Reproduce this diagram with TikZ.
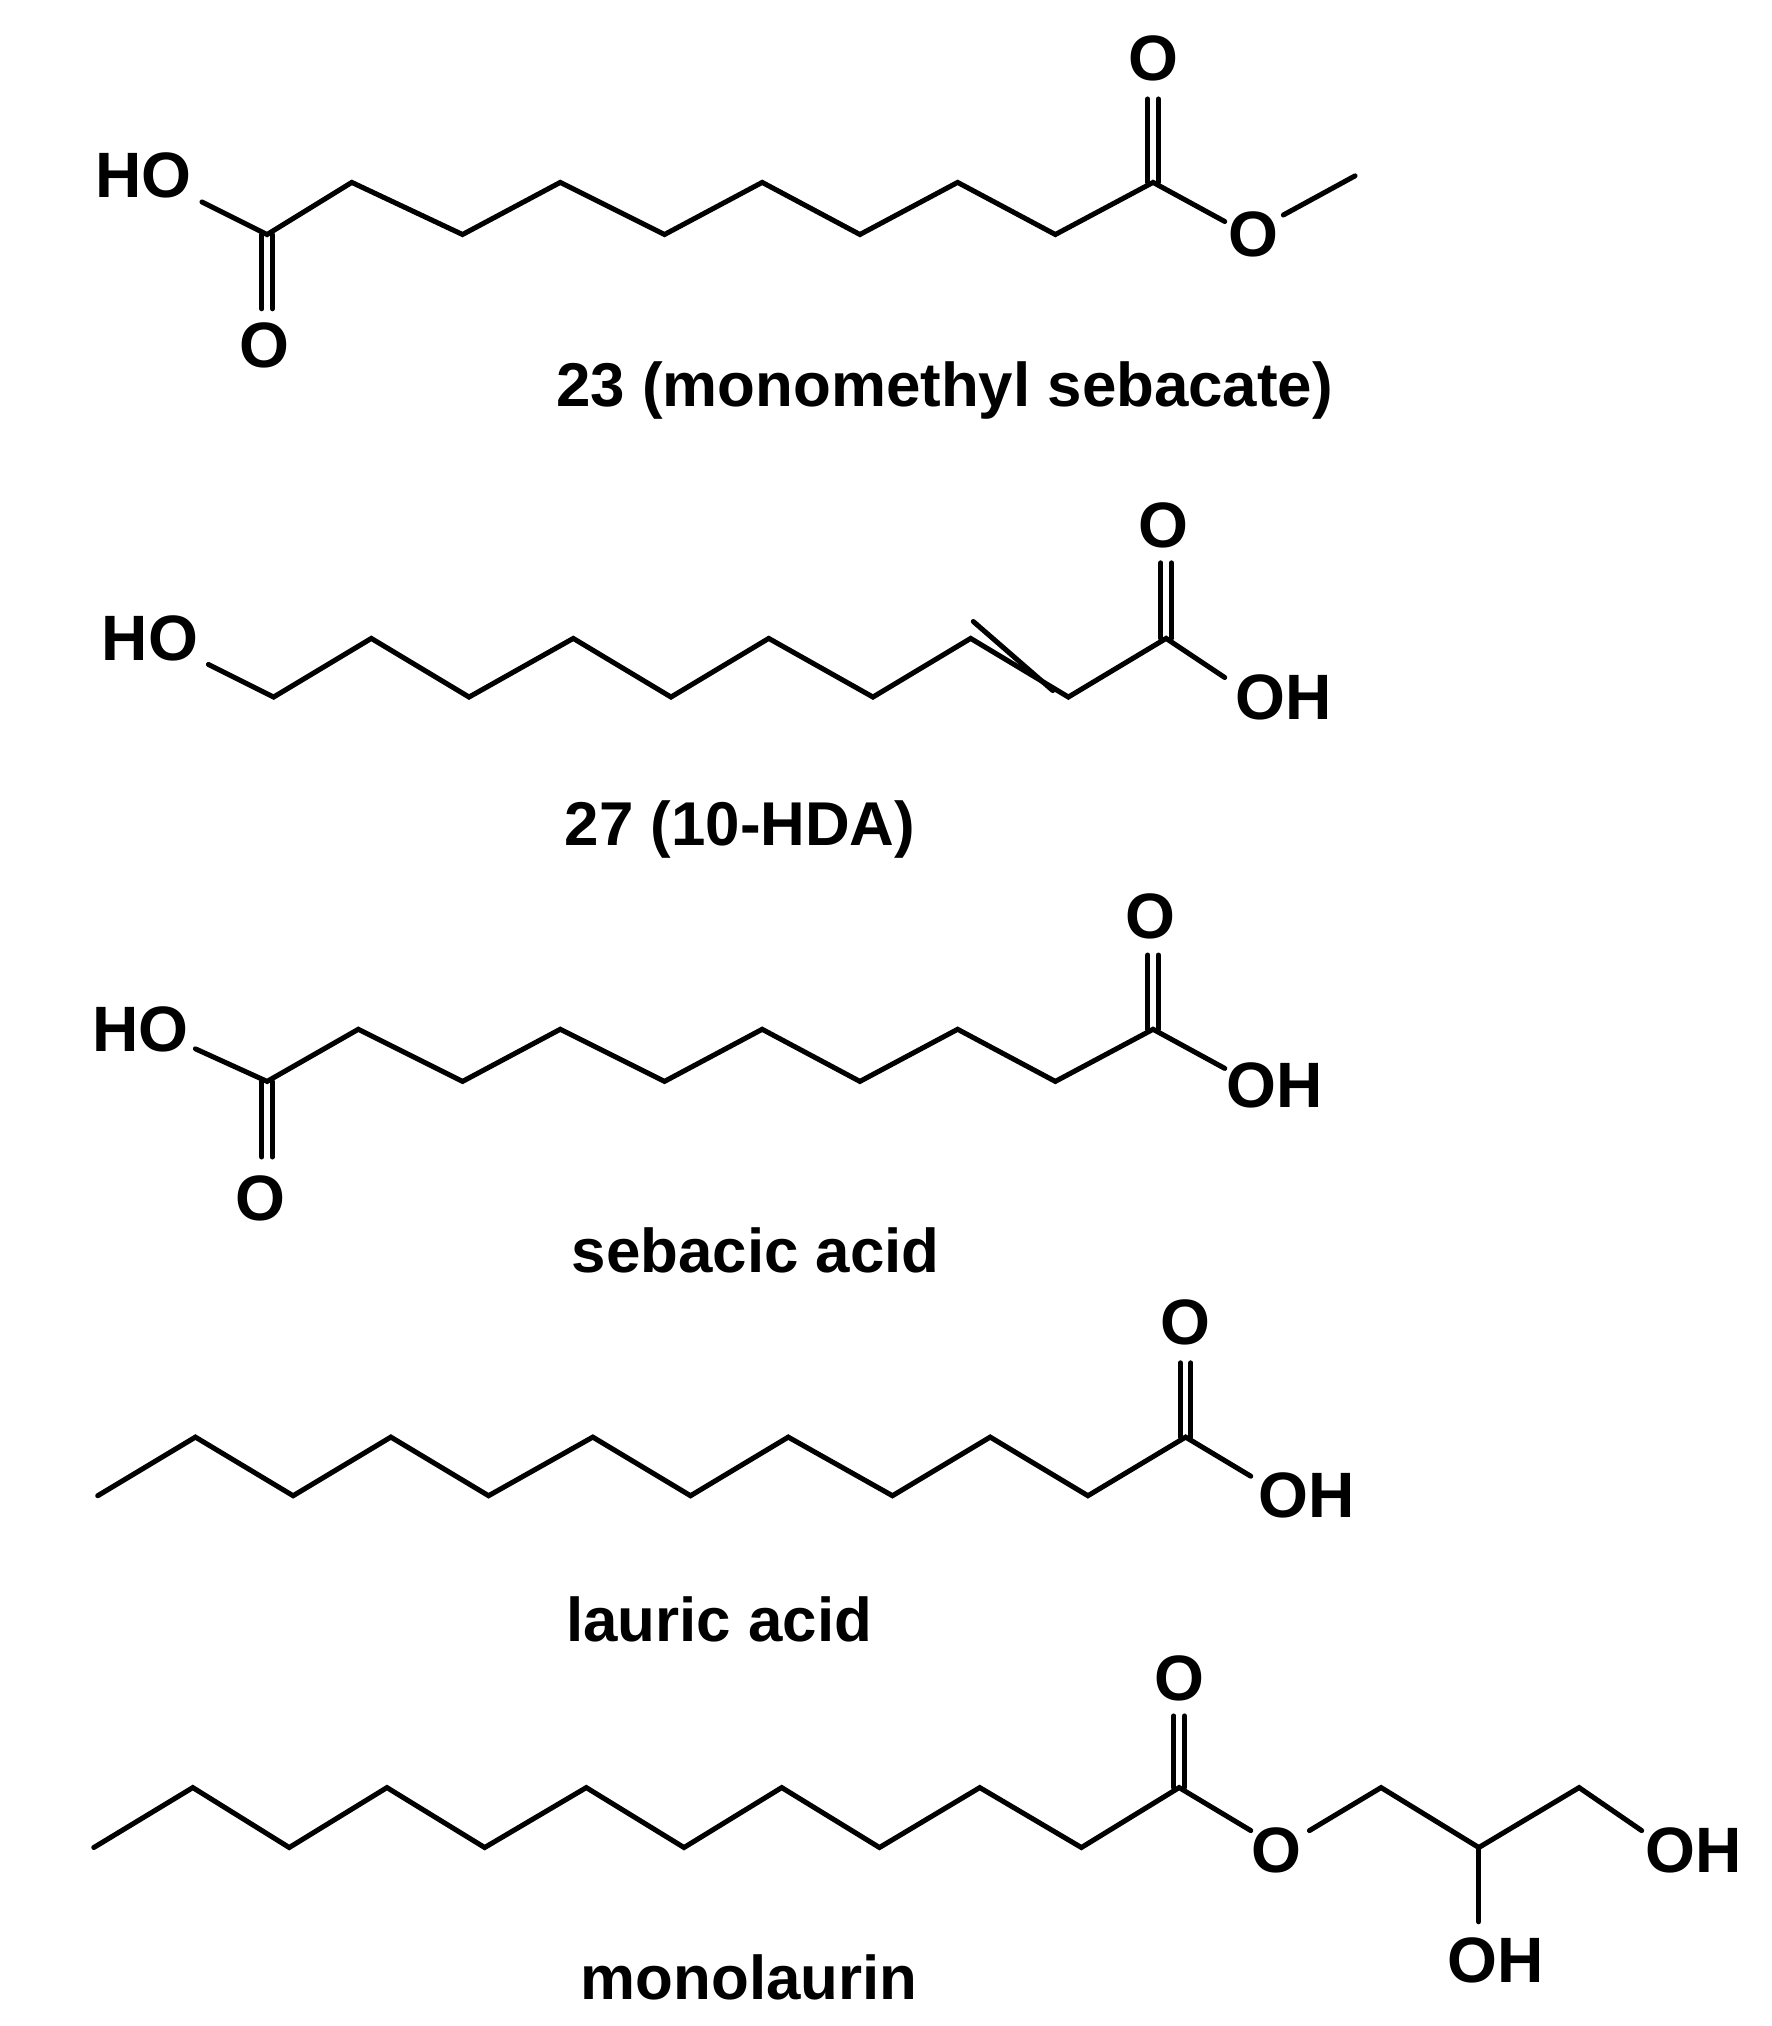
\documentclass[tikz,border=0pt]{standalone}
\usepackage{fontspec}
\setmainfont{Liberation Sans}
\usetikzlibrary{calc}
\begin{document}
\begin{tikzpicture}[x=0.01cm,y=-0.01cm,
  bond/.style={line width=1.1pt,line cap=round},
  atom/.style={font=\fontsize{14}{16}\selectfont\bfseries,inner sep=1pt},
  caplabel/.style={font=\fontsize{13.5}{16}\selectfont\bfseries}]
\useasboundingbox (0,0) rectangle (1360,1555);
% ---------- molecule 23
\node[atom] (a1) at (110,135) {HO};
\node[atom] (a2) at (203,265) {O};
\node[atom] (a3) at (885,45) {O};
\node[atom] (a4) at (962,180) {O};
\coordinate (c1) at (205,180);
\foreach \n/\x/\y in {c2/270/140,c3/355/180,c4/430/140,c5/510/180,c6/585/140,c7/660/180,c8/735/140,c9/810/180,c10/885/140,me/1040/135}
  \coordinate (\n) at (\x,\y);
\draw[bond] (155,155) -- (c1) -- (c2) -- (c3) -- (c4) -- (c5) -- (c6) -- (c7) -- (c8) -- (c9) -- (c10) -- (940,170);
\draw[bond] (985,165) -- (me);
\draw[bond] ($(c1)+(-4,0)$) -- ($(c1)+(-4,57)$) ($(c1)+(4,0)$) -- ($(c1)+(4,57)$);
\draw[bond] ($(c10)+(-4,0)$) -- ($(c10)+(-4,-64)$) ($(c10)+(4,0)$) -- ($(c10)+(4,-64)$);
\node[caplabel] (l1) at (725,300) {23 (monomethyl sebacate)};
% ---------- molecule 27
\node[atom] (b1) at (115,490) {HO};
\node[atom] (b2) at (893,403) {O};
\node[atom] (b3) at (985,535) {OH};
\foreach \n/\x/\y in {d1/210/535,d2/285/490,d3/360/535,d4/440/490,d5/515/535,d6/590/490,d7/670/535,d8/745/490,d9/820/535,d10/895/490}
  \coordinate (\n) at (\x,\y);
\draw[bond] (160,510) -- (d1) -- (d2) -- (d3) -- (d4) -- (d5) -- (d6) -- (d7) -- (d8) -- (d9) -- (d10) -- (940,520);
\draw[bond] ($(d8)+(2,-13)$) -- ($(d9)+(-12,-5)$);
\draw[bond] ($(d10)+(-4,0)$) -- ($(d10)+(-4,-58)$) ($(d10)+(4,0)$) -- ($(d10)+(4,-58)$);
\node[caplabel] (l2) at (568,637) {27 (10-HDA)};
% ---------- sebacic acid
\node[atom] (e1) at (108,790) {HO};
\node[atom] (e2) at (200,920) {O};
\node[atom] (e3) at (883,703) {O};
\node[atom] (e4) at (978,833) {OH};
\foreach \n/\x/\y in {f1/205/830,f2/275/790,f3/355/830,f4/430/790,f5/510/830,f6/585/790,f7/660/830,f8/735/790,f9/810/830,f10/885/790}
  \coordinate (\n) at (\x,\y);
\draw[bond] (150,805) -- (f1) -- (f2) -- (f3) -- (f4) -- (f5) -- (f6) -- (f7) -- (f8) -- (f9) -- (f10) -- (940,820);
\draw[bond] ($(f1)+(-4,0)$) -- ($(f1)+(-4,58)$) ($(f1)+(4,0)$) -- ($(f1)+(4,58)$);
\draw[bond] ($(f10)+(-4,0)$) -- ($(f10)+(-4,-57)$) ($(f10)+(4,0)$) -- ($(f10)+(4,-57)$);
\node[caplabel] (l3) at (580,960) {sebacic acid};
% ---------- lauric acid
\node[atom] (g1) at (910,1015) {O};
\node[atom] (g2) at (1003,1148) {OH};
\foreach \n/\x/\y in {h0/75/1148,h1/150/1103,h2/225/1148,h3/300/1103,h4/375/1148,h5/455/1103,h6/530/1148,h7/605/1103,h8/685/1148,h9/760/1103,h10/835/1148,h11/910/1103}
  \coordinate (\n) at (\x,\y);
\draw[bond] (h0) -- (h1) -- (h2) -- (h3) -- (h4) -- (h5) -- (h6) -- (h7) -- (h8) -- (h9) -- (h10) -- (h11) -- (960,1133);
\draw[bond] ($(h11)+(-4,0)$) -- ($(h11)+(-4,-57)$) ($(h11)+(4,0)$) -- ($(h11)+(4,-57)$);
\node[caplabel] (l4) at (552,1243) {lauric acid};
% ---------- monolaurin
\node[atom] (m1) at (905,1288) {O};
\node[atom] (m2) at (980,1420) {O};
\node[atom] (m3) at (1300,1420) {OH};
\node[atom] (m4) at (1148,1505) {OH};
\foreach \n/\x/\y in {k0/72/1418,k1/148/1372,k2/222/1418,k3/297/1372,k4/372/1418,k5/450/1372,k6/525/1418,k7/600/1372,k8/675/1418,k9/752/1372,k10/830/1418,k11/905/1372,k12/1060/1372,k13/1135/1418,k14/1212/1372}
  \coordinate (\n) at (\x,\y);
\draw[bond] (k0) -- (k1) -- (k2) -- (k3) -- (k4) -- (k5) -- (k6) -- (k7) -- (k8) -- (k9) -- (k10) -- (k11) -- (960,1405);
\draw[bond] (1005,1405) -- (k12) -- (k13) -- (k14) -- (1260,1405);
\draw[bond] (k13) -- (1135,1475);
\draw[bond] ($(k11)+(-4,0)$) -- ($(k11)+(-4,-55)$) ($(k11)+(4,0)$) -- ($(k11)+(4,-55)$);
\node[caplabel] (l5) at (575,1518) {monolaurin};
\end{tikzpicture}
\end{document}
